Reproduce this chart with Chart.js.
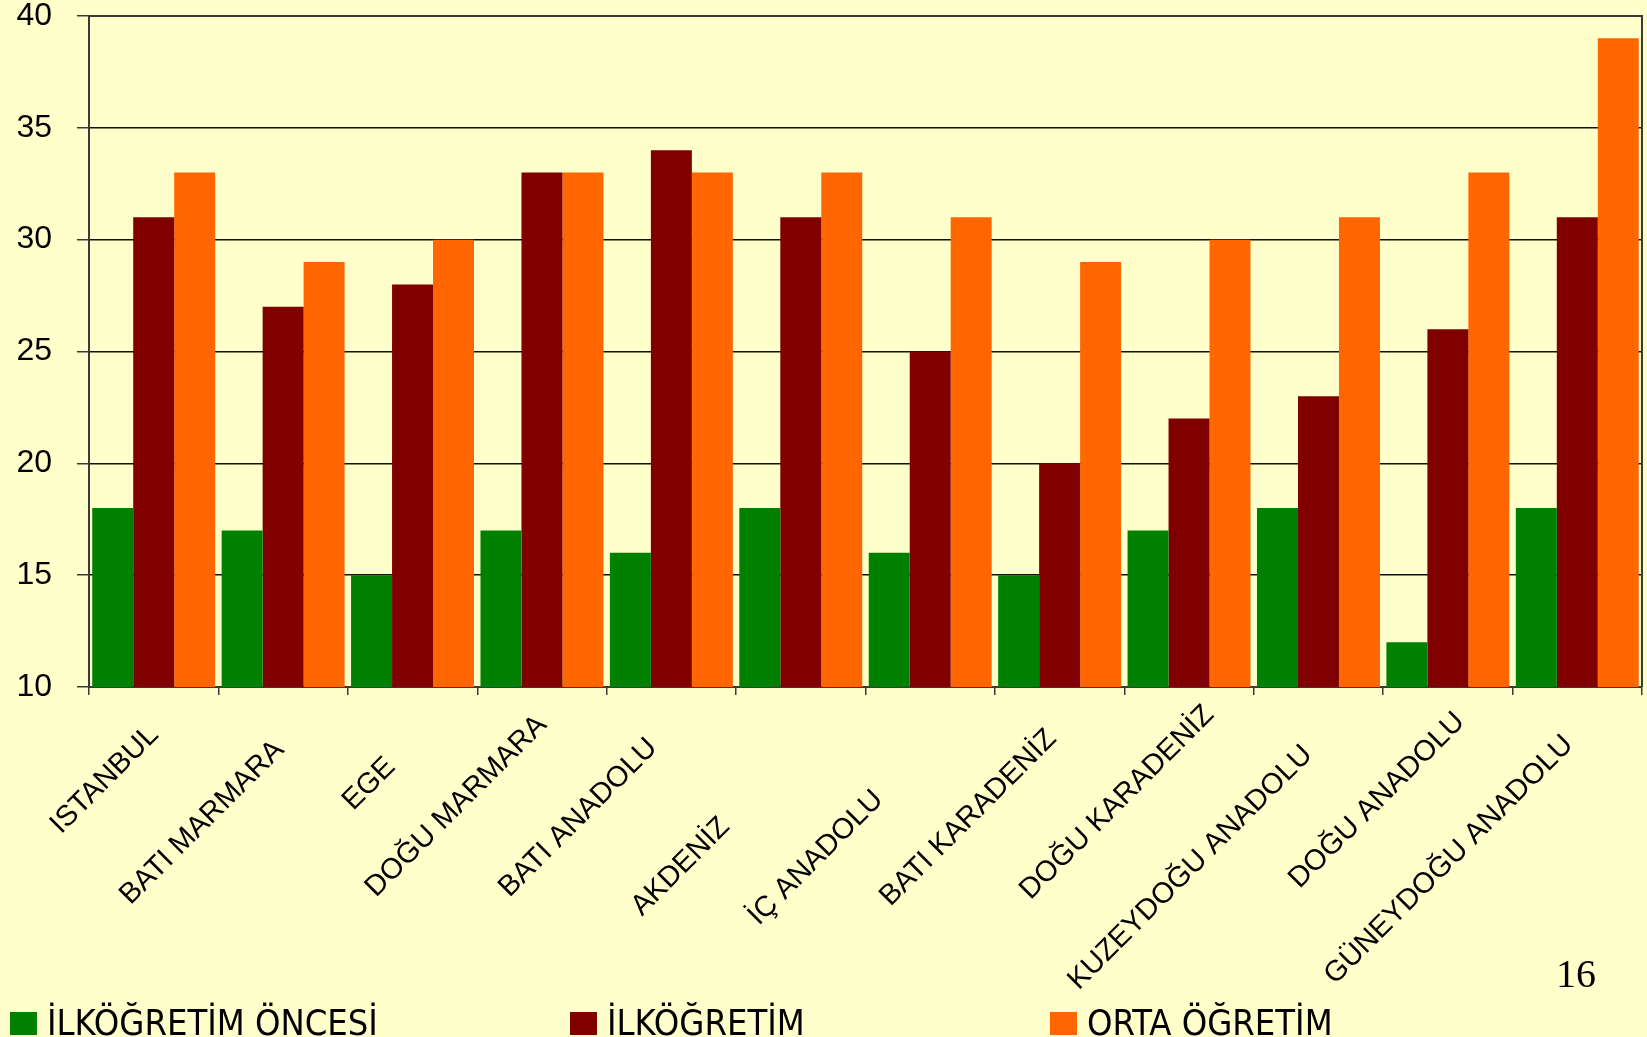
<!doctype html>
<html lang="tr">
<head>
<meta charset="utf-8">
<title>Bölgelere göre öğretim</title>
<style>
  * { box-sizing: border-box; margin: 0; padding: 0; }
  body { background: #ffffcc; width: 1647px; height: 1037px; overflow: hidden; position: relative;
    font-family: "Liberation Sans", Arial, sans-serif; }
  .cw { position: absolute; left: 0; top: 0; width: 1647px; height: 1037px; }
  .lg { position: absolute; top: 1003px; height: 40px; display: flex; align-items: center; color: #000; white-space: nowrap;
    font: 36px/40px "Liberation Sans Narrow", "DejaVu Sans Condensed", sans-serif; }
  .lg i { display: inline-block; width: 27px; height: 23px; margin-right: 10px; }
  .pg { position: absolute; left: 1556px; top: 950px; font: 40px "Liberation Serif", "Times New Roman", serif; color: #000; }
</style>
</head>
<body>
<div class="cw"><canvas id="c"></canvas></div>
<div id="legend"></div>
<div class="pg">16</div>
<script src="https://cdn.jsdelivr.net/npm/chart.js@4.4.1/dist/chart.umd.min.js"></script>
<script>
  const categories = ["ISTANBUL", "BATI MARMARA", "EGE", "DOĞU MARMARA", "BATI ANADOLU", "AKDENİZ",
    "İÇ ANADOLU", "BATI KARADENİZ", "DOĞU KARADENİZ", "KUZEYDOĞU ANADOLU", "DOĞU ANADOLU", "GÜNEYDOĞU ANADOLU"];
  const seriesNames = ["İLKÖĞRETİM ÖNCESİ", "İLKÖĞRETİM", "ORTA ÖĞRETİM"];
  const ilkogretimOncesi = [18, 17, 15, 17, 16, 18, 16, 15, 17, 18, 12, 18];
  const ilkogretim = [31, 27, 28, 33, 34, 31, 25, 20, 22, 23, 26, 31];
  const ortaOgretim = [33, 29, 30, 33, 33, 33, 31, 29, 30, 31, 33, 39];
  const yTicks = [10, 15, 20, 25, 30, 35, 40];

  const colors = ["#008000", "#800000", "#ff6600"];
  const legendX = [10, 570, 1050];
  const axisLine = "#3a3a3a";
  // where the slide put the end of each slanted category label, relative to its tick / the axis line
  const labelNudge = [[6, 49], [2, 64], [-16, 81], [6, 39], [-13, 62], [-70, 141],
    [-46, 114], [-2, 53], [26, 29], [-5, 69], [18, 36], [-3, 59]];

  // legend laid out like the original slide: three fixed columns at the bottom
  document.getElementById("legend").innerHTML = seriesNames
    .map((n, i) => `<div class="lg" style="left:${legendX[i]}px"><i style="background:${colors[i]}"></i>${n}</div>`)
    .join("");

  const frame = {
    id: "frame",
    afterDraw(chart) {
      const { ctx, chartArea: a } = chart;
      ctx.save();
      ctx.strokeStyle = axisLine;
      ctx.lineWidth = 2;
      ctx.beginPath();
      ctx.moveTo(a.left, a.top);
      ctx.lineTo(a.right, a.top);
      ctx.lineTo(a.right, a.bottom);
      ctx.stroke();
      ctx.restore();
    }
  };

  // slanted category labels, each anchored on its own tick
  const xLabels = {
    id: "xLabels",
    afterDraw(chart) {
      const { ctx } = chart;
      const x = chart.scales.x;
      ctx.save();
      ctx.font = "29px 'Liberation Sans', Arial, sans-serif";
      ctx.fillStyle = "#000";
      ctx.textAlign = "right";
      ctx.textBaseline = "alphabetic";
      categories.forEach((c, i) => {
        const [dx, dy] = labelNudge[i];
        ctx.save();
        ctx.translate(x.getPixelForValue(i) + dx, x.top + dy);
        ctx.rotate(-Math.PI / 4);
        ctx.fillText(c, 0, 0);
        ctx.restore();
      });
      ctx.restore();
    }
  };

  new Chart(document.getElementById("c"), {
    type: "bar",
    data: {
      labels: categories,
      datasets: [ilkogretimOncesi, ilkogretim, ortaOgretim].map((d, i) => ({
        label: seriesNames[i], data: d, backgroundColor: colors[i], borderWidth: 0,
        barPercentage: 1, categoryPercentage: 0.95
      }))
    },
    options: {
      responsive: true, maintainAspectRatio: false, animation: false,
      layout: { padding: { top: 16, right: 5, left: 0, bottom: 0 } },
      plugins: { legend: { display: false }, tooltip: { enabled: false } },
      scales: {
        x: {
          grid: { offset: true, drawOnChartArea: false, tickLength: 8, color: axisLine, lineWidth: 1.5 },
          border: { color: axisLine, width: 2 },
          ticks: { display: false },
          afterFit: (s) => { s.height = 1037 - 687; s.paddingLeft = 0; s.paddingRight = 0; }
        },
        y: {
          min: yTicks[0], max: yTicks[yTicks.length - 1],
          afterBuildTicks: (s) => { s.ticks = yTicks.map((v) => ({ value: v })); },
          grid: { color: "#111", lineWidth: 1.5, tickLength: 12, tickColor: axisLine },
          border: { color: axisLine, width: 2 },
          ticks: { padding: 25, color: "#000", font: { family: "'Liberation Sans', Arial, sans-serif", size: 32 } },
          afterFit: (s) => { s.width = 89; s.paddingTop = 0; s.paddingBottom = 0; }
        }
      }
    },
    plugins: [frame, xLabels]
  });
</script>
</body>
</html>
